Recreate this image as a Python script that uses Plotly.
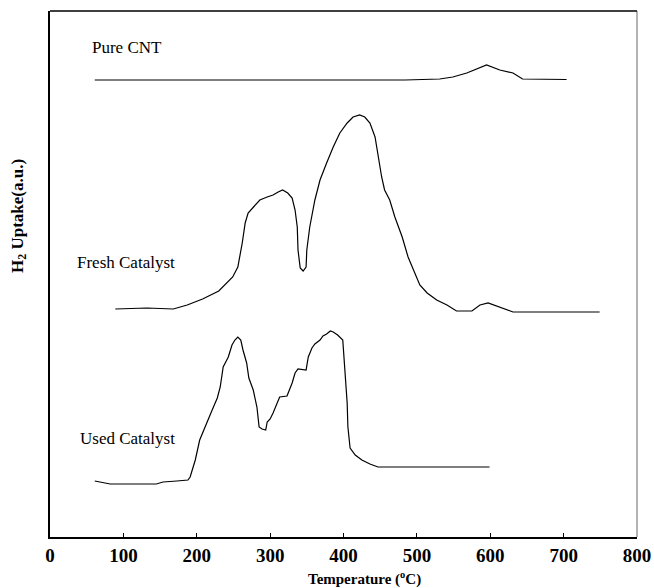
import plotly.graph_objects as go

# Pure CNT
cnt_T = [61, 484, 531, 549, 568, 595, 613, 631, 644, 704]
cnt_h = [457, 457, 458, 460, 464, 472, 467, 464, 458, 457.5]

# Fresh Catalyst
fresh_T = [89, 132, 168, 187, 208, 230, 249, 256, 262, 266, 270, 277, 286, 296, 304, 311,
           317, 324, 330, 334, 337, 338, 341, 345, 349, 350, 354, 361, 368, 377, 386, 395,
           405, 413, 422, 429, 436, 443, 447, 452, 456, 463, 470, 480, 488, 497, 504, 514,
           522, 527, 541, 554, 575, 586, 597, 609, 631, 749]
fresh_h = [228, 229, 228, 232, 238, 246, 260, 270, 294, 314, 324, 330, 337, 340, 342, 345,
           347, 344, 339, 327, 310, 287, 269, 266, 270, 287, 310, 337, 357, 374, 390, 404,
           414, 420, 422, 420, 414, 400, 380, 360, 347, 337, 320, 300, 280, 264, 252, 244,
           240, 237, 232, 226, 226, 232, 234, 231, 225, 225]

# Used Catalyst
used_T = [61, 68, 82, 145, 154, 173, 188, 191, 198, 204, 211, 221, 228, 232, 236, 243, 248,
          252, 256, 260, 263, 268, 271, 277, 282, 285, 289, 294, 296, 300, 304, 309, 313,
          323, 330, 334, 338, 349, 352, 357, 361, 368, 372, 377, 382, 386, 392, 399, 402,
          405, 406, 409, 416, 425, 436, 447, 599]
used_h = [56, 55, 53, 53, 55, 56, 57, 60, 77, 97, 110, 127, 139, 150, 170, 180, 192,
          197, 200, 197, 187, 174, 159, 147, 130, 110, 108, 107, 115, 118, 124, 132, 140,
          141, 154, 164, 168, 167, 180, 189, 193, 197, 201, 203, 206, 205, 202, 197, 167,
          134, 110, 89, 82, 77, 73, 70, 70]

labels = ["Pure CNT", "Fresh Catalyst", "Used Catalyst"]
label_T = [55, 34, 38]
label_h = [490, 275, 99]

x_ticks = [0, 100, 200, 300, 400, 500, 600, 700, 800]

serif = "Liberation Serif, Times New Roman, serif"

fig = go.Figure()
for T, h in [(cnt_T, cnt_h), (fresh_T, fresh_h), (used_T, used_h)]:
    fig.add_trace(go.Scatter(x=T, y=h, mode="lines",
                             line=dict(color="black", width=1.2),
                             showlegend=False, hoverinfo="skip"))

for txt, lx, ly in zip(labels, label_T, label_h):
    fig.add_annotation(x=lx, y=ly, text=txt, showarrow=False, xanchor="left",
                       yanchor="middle", font=dict(family=serif, size=17, color="black"))

fig.add_annotation(xref="paper", yref="paper", x=0.536, y=-0.078, yanchor="middle",
                   text="<b>Temperature (<sup>o</sup>C)</b>", showarrow=False,
                   font=dict(family=serif, size=15, color="black"))
fig.add_annotation(xref="paper", yref="paper", x=-0.053, y=0.61, textangle=-90,
                   xanchor="center", yanchor="middle",
                   text="<b>H<sub>2</sub> Uptake(a.u.)</b>", showarrow=False,
                   font=dict(family=serif, size=17, color="black"))

fig.add_shape(type="line", xref="paper", yref="paper", x0=1, x1=1, y0=0, y1=1,
              line=dict(color="#999999", width=1.5))
fig.add_shape(type="line", xref="paper", yref="paper", x0=0, x1=1, y0=1, y1=1,
              line=dict(color="black", width=1.5))

fig.update_layout(
    width=654, height=588, autosize=False,
    margin=dict(l=50, r=17, t=11, b=51, pad=0),
    paper_bgcolor="white", plot_bgcolor="white",
    xaxis=dict(range=[0, 800], tickvals=x_ticks, ticks="inside", ticklen=4,
               tickcolor="black", showline=True, linecolor="black", linewidth=1.5,
               mirror=False, showgrid=False, zeroline=False, automargin=False,
               tickfont=dict(family=serif, size=19, color="black", weight="bold")),
    yaxis=dict(range=[0, 526], showticklabels=False, ticks="", showline=True,
               linecolor="black", linewidth=1.5, showgrid=False, zeroline=False,
               automargin=False),
)

fig.write_html("out.html")
